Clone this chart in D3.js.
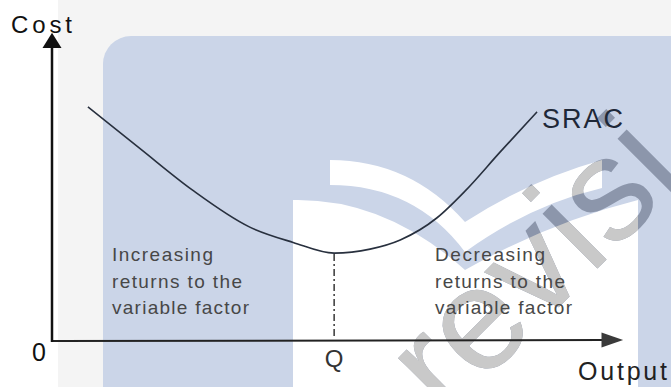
<!DOCTYPE html>
<html>
<head>
<meta charset="utf-8">
<script src="https://cdn.jsdelivr.net/npm/d3@7/dist/d3.min.js"></script>
<style>
  html, body { margin: 0; padding: 0; background: #fff; }
  svg { display: block; }
  text { font-family: "Liberation Sans", Arial, Helvetica, sans-serif; }
</style>
</head>
<body>
<svg id="chart" width="671" height="387"></svg>
<script>
// Short-run average cost curve (output vs cost, arbitrary units 0–10)
const outputVals = [0.63, 1.54, 2.46, 3.47, 4.23, 4.95, 5.58, 6.11, 6.75, 7.25, 7.86, 8.51];
const costVals   = [7.64, 6.28, 4.92, 3.70, 3.20, 2.85, 2.98, 3.28, 4.00, 4.89, 6.16, 7.48];
const curveName = "SRAC";
const xTitle = "Output";
const yTitle = "Cost";
const originLabel = "0";
const minLabel = "Q";
const leftNote  = ["Increasing", "returns to the", "variable factor"];
const rightNote = ["Decreasing", "returns to the", "variable factor"];

const W = 671, H = 387;
const svg = d3.select("#chart");

const x = d3.scaleLinear().domain([0, 10]).range([52, 622]);
const y = d3.scaleLinear().domain([0, 10]).range([340, 35]);

// ---- backdrop panel and emblem ----
svg.append("rect").attr("width", W).attr("height", H).attr("fill", "#ffffff");
svg.append("rect").attr("x", 58).attr("y", 0).attr("width", W - 58).attr("height", H).attr("fill", "#f4f4f4");
svg.append("rect").attr("x", 103).attr("y", 36).attr("width", 640).attr("height", 420)
  .attr("rx", 28).attr("fill", "#cbd5e8");

const emblemPaths = [
  "M330,160 Q410,160 465,222 Q530,180 602,160 L602,188 Q530,205 465,252 Q415,185 330,185 Z",
  "M293,200 Q385,198 465,270 Q550,222 638,200 L638,400 L293,400 Z"
];
const defs = svg.append("defs");
const clip = defs.append("clipPath").attr("id", "emblemClip");
emblemPaths.forEach(d => {
  svg.append("path").attr("d", d).attr("fill", "#ffffff");
  clip.append("path").attr("d", d);
});
const markText = "revisi";
const markPos = "translate(446,420) rotate(-45)";
svg.append("text").attr("transform", markPos)
  .attr("font-size", 147).attr("fill", "#8c96ab").text(markText);
svg.append("g").attr("clip-path", "url(#emblemClip)")
  .append("text").attr("transform", markPos)
  .attr("font-size", 147).attr("fill", "#c9c9c9").text(markText);

// ---- axes with arrowheads ----
const x0 = x(0), y0 = y(0);
svg.append("line").attr("x1", x0).attr("y1", y0 + 1).attr("x2", x(9.65)).attr("y2", y0)
  .attr("stroke", "#222").attr("stroke-width", 2);
svg.append("path")
  .attr("d", `M${x(10.02)},${y0} L${x(9.64)},${y0 - 7.5} L${x(9.64)},${y0 + 7.5} Z`)
  .attr("fill", "#3a3a3a");
svg.append("line").attr("x1", x0).attr("y1", y0 + 2).attr("x2", x0).attr("y2", y(9.6))
  .attr("stroke", "#111").attr("stroke-width", 2.5);
svg.append("path")
  .attr("d", `M${x0},${y(10.07)} L${x0 - 9.5},${y(9.57)} L${x0 + 9.5},${y(9.57)} Z`)
  .attr("fill", "#111");

// ---- SRAC curve ----
const pts = outputVals.map((v, i) => [v, costVals[i]]);
const line = d3.line().x(d => x(d[0])).y(d => y(d[1])).curve(d3.curveMonotoneX);
svg.append("path").datum(pts).attr("d", line)
  .attr("fill", "none").attr("stroke", "#28303e").attr("stroke-width", 1.6);

// minimum point and drop line to Q
const iMin = d3.minIndex(costVals);
const qx = x(outputVals[iMin]);
svg.append("line").attr("x1", qx).attr("y1", y(costVals[iMin]) + 1).attr("x2", qx).attr("y2", y0 - 1)
  .attr("stroke", "#444").attr("stroke-width", 1.6).attr("stroke-dasharray", "7,3,2,3");

// ---- labels ----
svg.append("text").attr("x", 11).attr("y", 33).attr("font-size", 24).attr("fill", "#111")
  .attr("textLength", 61).attr("lengthAdjust", "spacing").text(yTitle);
svg.append("text").attr("x", 578).attr("y", 380).attr("font-size", 25).attr("fill", "#222")
  .attr("textLength", 89).attr("lengthAdjust", "spacing").text(xTitle);
svg.append("text").attr("x", x0 - 13).attr("y", 361).attr("font-size", 25).attr("fill", "#111")
  .attr("text-anchor", "middle").text(originLabel);
svg.append("text").attr("x", qx).attr("y", 367).attr("font-size", 24).attr("fill", "#333")
  .attr("text-anchor", "middle").text(minLabel);

const last = pts[pts.length - 1];
svg.append("text").attr("x", x(last[0]) + 5).attr("y", y(last[1]) + 16).attr("font-size", 27)
  .attr("fill", "#1e2838").attr("textLength", 81).attr("lengthAdjust", "spacing").text(curveName);

const noteWidths = { "Increasing": 101, "Decreasing": 110, "returns to the": 130, "variable factor": 137 };
function note(lines, px) {
  const g = svg.append("g");
  lines.forEach((t, i) => {
    g.append("text").attr("x", px).attr("y", 261 + i * 26.5)
      .attr("font-size", 19).attr("fill", "#474747")
      .attr("textLength", noteWidths[t]).attr("lengthAdjust", "spacing").text(t);
  });
}
note(leftNote, 112);
note(rightNote, 435);
</script>
</body>
</html>
